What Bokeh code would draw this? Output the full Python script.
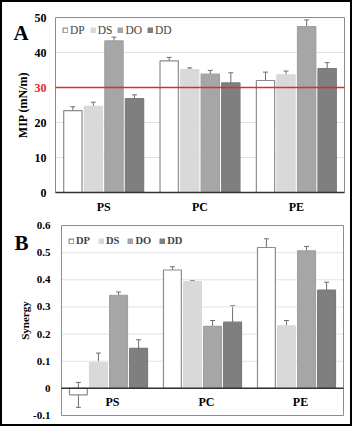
import math
from bokeh.plotting import figure
from bokeh.models import (ColumnDataSource, Range1d, Whisker, Legend, LegendItem, TeeHead)
from bokeh.layouts import column
from bokeh.embed import file_html
from bokeh.resources import INLINE
from bokeh.core.properties import value

groups = ["PS", "PC", "PE"]
series = ["DP", "DS", "DO", "DD"]

# Panel A: MIP (mN/m)
mip_DP = [23.4, 37.6, 32.0]
mip_DP_err = [1.1, 1.0, 2.4]
mip_DS = [24.6, 35.1, 33.6]
mip_DS_err = [1.2, 0.5, 1.1]
mip_DO = [43.3, 33.8, 47.4]
mip_DO_err = [1.1, 1.1, 1.9]
mip_DD = [26.8, 31.3, 35.4]
mip_DD_err = [1.1, 2.9, 1.7]
mip_ref = 30
mip_ticks = [0, 10, 20, 30, 40, 50]
mip_tick_labels = ["0", "10", "20", "30", "40", "50"]

# Panel B: Synergy
syn_DP = [-0.024, 0.436, 0.519]
syn_DP_err = [0.046, 0.012, 0.032]
syn_DS = [0.095, 0.393, 0.230]
syn_DS_err = [0.035, 0.004, 0.020]
syn_DO = [0.343, 0.228, 0.507]
syn_DO_err = [0.012, 0.022, 0.016]
syn_DD = [0.147, 0.244, 0.362]
syn_DD_err = [0.032, 0.060, 0.029]
syn_ticks = [-0.1, 0, 0.1, 0.2, 0.3, 0.4, 0.5, 0.6]
syn_tick_labels = ["-0.1", "0", "0.1", "0.2", "0.3", "0.4", "0.5", "0.6"]

fills = ["#ffffff", "#d9d9d9", "#a6a6a6", "#7f7f7f"]
lines = ["#8c8c8c", "#d9d9d9", "#a0a0a0", "#7a7a7a"]
offsets = [-0.32, -0.107, 0.107, 0.32]
BW = 0.19
SERIF = "Liberation Serif"
NG = len(groups)
centers = [i + 0.5 for i in range(NG)]


def make_panel(vals, errs, ticks, tick_labels, tick_colors, W, H, L, R, T, Bm,
               tick_fs, tick_off, ylabel, ylabel_off, letter, letter_off, legend_fs,
               legend_bold, legend_loc, legend_spacing):
    ylo, yhi = ticks[0], ticks[-1]
    ux = NG / (W - L - R)
    uy = (yhi - ylo) / (H - T - Bm)
    p = figure(width=W, height=H, x_range=Range1d(-L * ux, NG + R * ux),
               y_range=Range1d(ylo - Bm * uy, yhi + T * uy),
               x_axis_type=None, y_axis_type=None, min_border=0,
               output_backend="svg", toolbar_location=None)
    p.grid.visible = False
    p.outline_line_color = None
    p.background_fill_color = "#ffffff"
    p.border_fill_color = "#ffffff"

    inner = [t for t in ticks[1:-1]]
    p.segment(x0=[0] * len(inner), x1=[NG] * len(inner), y0=inner, y1=inner,
              line_color="#e2e2e2", line_width=1)
    p.quad(left=[0], right=[NG], bottom=[ylo], top=[yhi], fill_color=None,
           line_color="#8c8c8c", line_width=1)

    # tick labels
    tsrc = ColumnDataSource(dict(x=[0] * len(ticks), y=ticks, t=tick_labels, c=tick_colors))
    p.text(x="x", y="y", text="t", text_color="c", source=tsrc, text_font=value(SERIF),
           text_font_style="bold", text_font_size=tick_fs, text_align="right",
           text_baseline="middle", x_offset=tick_off)
    # axis label
    p.text(x=[0], y=[(ylo + yhi) / 2], text=[ylabel], angle=math.pi / 2, text_font=value(SERIF),
           text_font_style="bold", text_font_size=tick_fs, text_align="center",
           text_baseline="middle", x_offset=ylabel_off)
    # panel letter
    p.text(x=[0], y=[yhi], text=[letter], text_font=value(SERIF), text_font_style="bold",
           text_font_size="21px", text_align="left", text_baseline="alphabetic",
           x_offset=letter_off[0], y_offset=letter_off[1])

    items = []
    for i, s in enumerate(series):
        xs = [c + offsets[i] for c in centers]
        src = ColumnDataSource(dict(x=xs, v=vals[i], lo=[a - b for a, b in zip(vals[i], errs[i])],
                                    hi=[a + b for a, b in zip(vals[i], errs[i])]))
        r = p.vbar(x="x", top="v", bottom=0, width=BW, source=src, fill_color=fills[i],
                   line_color=lines[i], line_width=1.2)
        w = Whisker(base="x", upper="hi", lower="lo", source=src,
                    line_color="#6e6e6e", line_width=1,
                    upper_head=TeeHead(size=5, line_color="#6e6e6e", line_width=1),
                    lower_head=TeeHead(size=5, line_color="#6e6e6e", line_width=1))
        p.add_layout(w)
        items.append(LegendItem(label=s, renderers=[r]))
    leg = Legend(items=items, orientation="horizontal", location=legend_loc,
                 glyph_width=6, glyph_height=6, label_standoff=2, spacing=legend_spacing,
                 label_width=0, padding=2, margin=0, border_line_color=None,
                 background_fill_alpha=0, label_text_font=SERIF, label_text_font_size=legend_fs,
                 label_text_font_style="bold" if legend_bold else "normal",
                 label_height=10)
    p.add_layout(leg)
    return p


# Panel A
WA, HA = 348, 210
pA = make_panel([mip_DP, mip_DS, mip_DO, mip_DD], [mip_DP_err, mip_DS_err, mip_DO_err, mip_DD_err],
                mip_ticks, mip_tick_labels,
                ["#e8262b" if t == mip_ref else "#000000" for t in mip_ticks],
                WA, HA, 53, 6, 15, 20, "12px", -9, "MIP (mN/m)", -33, "A", (-42, 15),
                "11.5px", False, (60, 176), 5)
pA.segment(x0=[0], x1=[NG], y0=[0], y1=[0], line_color="#333333", line_width=1.5)
pA.segment(x0=[0], x1=[NG], y0=[mip_ref], y1=[mip_ref], line_color="#e8262b", line_width=1.5)
pA.text(x=centers, y=[0] * NG, text=groups, text_font=value(SERIF), text_font_style="bold",
        text_font_size="12px", text_align="center", text_baseline="top", y_offset=7)

# Panel B
WB, HB = 348, 212
pB = make_panel([syn_DP, syn_DS, syn_DO, syn_DD], [syn_DP_err, syn_DS_err, syn_DO_err, syn_DD_err],
                syn_ticks, syn_tick_labels, ["#000000"] * len(syn_ticks),
                WB, HB, 59, 7, 13, 9, "11px", -11, "Synergy", -37, "B", (-47, 17),
                "10.5px", True, (66, 178), 8)
pB.segment(x0=[0], x1=[NG], y0=[0], y1=[0], line_color="#333333", line_width=1.5)
pB.text(x=centers, y=[0] * NG, text=groups, text_font=value(SERIF), text_font_style="bold",
        text_font_size="12px", text_align="center", text_baseline="top", y_offset=7, x_offset=4)

lay = column(pA, pB, spacing=0, styles={"border": "2px solid #000000"})
open("out.html", "w").write(file_html(lay, INLINE))
